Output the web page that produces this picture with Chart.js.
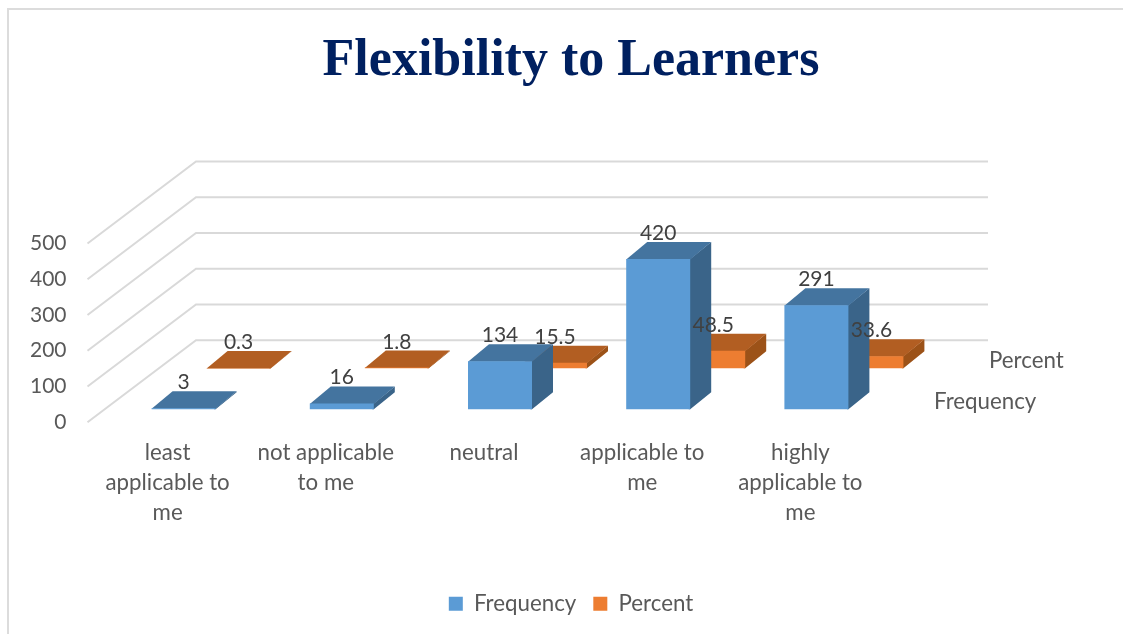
<!DOCTYPE html>
<html><head><meta charset="utf-8">
<script src="https://cdn.jsdelivr.net/npm/chart.js@4/dist/chart.umd.min.js"></script>
<style>
html,body{margin:0;padding:0;background:#fff}
#frame{position:absolute;left:7px;top:8px;right:0;bottom:0;border-left:2px solid #dcdcdc;border-top:2px solid #dcdcdc}
#wrap{position:absolute;left:0;top:0;width:1123px;height:634px}
</style></head><body>
<div id="frame"></div>
<div id="wrap"><canvas id="c" width="1123" height="634"></canvas></div>
<script>
const titleText = 'Flexibility to Learners';
const categories = [['least','applicable to','me'],['not applicable','to me'],['neutral'],['applicable to','me'],['highly','applicable to','me']];
const frequency = [3,16,134,420,291];
const percent = [0.3,1.8,15.5,48.5,33.6];
const valueTicks = [0,100,200,300,400,500];

const FONT = 'Lato';
const DEPTH = {dx:21, dy:17};
const WALL = {dx:107.5, dy:82, right:988};
const SHIFT = [{dx:16,dy:-13},{dx:71,dy:-54}];
const FACES = [{top:'#44749f',side:'#3a6489'},{top:'#b25e22',side:'#9c5218'}];

const threeD = {
  id:'threeD',
  beforeDatasetsDraw(chart){
    const {ctx,scales:{y},chartArea:a}=chart;
    ctx.save();ctx.strokeStyle='#d9d9d9';ctx.lineWidth=2;
    valueTicks.forEach(v=>{
      const p=y.getPixelForValue(v);
      ctx.beginPath();ctx.moveTo(a.left-1,p);ctx.lineTo(a.left+WALL.dx,p-WALL.dy);ctx.lineTo(WALL.right,p-WALL.dy);ctx.stroke();
    });
    ctx.restore();
  },
  beforeDatasetDraw(chart,args){
    const {ctx}=chart, i=args.index, s=SHIFT[i], f=FACES[i];
    ctx.save();ctx.translate(s.dx,s.dy);
    chart.getDatasetMeta(i).data.forEach(b=>{
      const l=b.x-b.width/2,r=b.x+b.width/2,t=b.y,bs=b.base;
      ctx.fillStyle=f.side;
      ctx.beginPath();ctx.moveTo(r-1.5,t);ctx.lineTo(r,t);ctx.lineTo(r+DEPTH.dx,t-DEPTH.dy);ctx.lineTo(r+DEPTH.dx,bs-DEPTH.dy);ctx.lineTo(r,bs);ctx.lineTo(r-1.5,bs);ctx.closePath();ctx.fill();
      ctx.fillStyle=f.top;
      ctx.beginPath();ctx.moveTo(l,t+0.5);ctx.lineTo(r,t+0.5);ctx.lineTo(r+DEPTH.dx,t-DEPTH.dy);ctx.lineTo(l+DEPTH.dx,t-DEPTH.dy);ctx.closePath();ctx.fill();
    });
  },
  afterDatasetDraw(chart){chart.ctx.restore();},
  afterDatasetsDraw(chart){
    const {ctx,chartArea:a}=chart;
    ctx.save();
    ctx.font='21px '+FONT;ctx.textAlign='center';ctx.textBaseline='alphabetic';ctx.fillStyle='#404040';
    chart.data.datasets.forEach((d,i)=>{
      const s=SHIFT[i];
      chart.getDatasetMeta(i).data.forEach((b,k)=>{
        ctx.fillText(String(d.data[k]),b.x+s.dx,b.y+s.dy-DEPTH.dy-2);
      });
    });
    ctx.font='22.3px '+FONT;
    ctx.fillStyle='#595959';ctx.textAlign='left';ctx.textBaseline='middle';
    chart.data.datasets.forEach((d,i)=>{
      const s=SHIFT[i], base=chart.scales.y.getPixelForValue(0)+s.dy;
      ctx.fillText(d.label,a.right+s.dx+38.5,base-7);
    });
    ctx.restore();
  }
};

new Chart(document.getElementById('c'),{
  type:'bar',
  data:{labels:categories,datasets:[
    {label:'Frequency',data:frequency,backgroundColor:'#5b9bd5',borderWidth:0,order:1,clip:false,yAxisID:'y'},
    {label:'Percent',data:percent,backgroundColor:'#ed7d31',borderWidth:0,order:2,clip:false,yAxisID:'y'}
  ]},
  plugins:[threeD],
  options:{
    responsive:false,animation:false,
    layout:{padding:{left:19,right:0,top:0,bottom:9}},
    datasets:{bar:{grouped:false,barPercentage:64/158.2,categoryPercentage:1}},
    plugins:{
      title:{display:true,text:titleText,color:'#002060',font:{family:'"Liberation Serif"',size:52,weight:'bold',lineHeight:1},padding:{top:36,bottom:155.5}},
      legend:{position:'bottom',labels:{font:{family:FONT,size:22.3},color:'#595959',boxWidth:14,boxHeight:14,padding:17}},
      tooltip:{enabled:false}
    },
    scales:{
      x:{grid:{display:false},border:{display:false},
         ticks:{font:{family:FONT,size:22.3,lineHeight:1.33},color:'#595959',maxRotation:0,autoSkip:false,padding:8},
         afterFit(s){s.height=153.5;}},
      y:{min:0,max:500,afterBuildTicks(s){s.ticks=valueTicks.map(value=>({value}));},
         grid:{display:false},border:{display:false},
         ticks:{font:{family:FONT,size:21},color:'#595959',padding:14},
         afterFit(s){s.width=69.5;}},
      pad:{position:'right',display:true,grid:{display:false},border:{display:false},ticks:{display:false},afterFit(s){s.width=243.5;}}
    }
  }
});
</script></body></html>
